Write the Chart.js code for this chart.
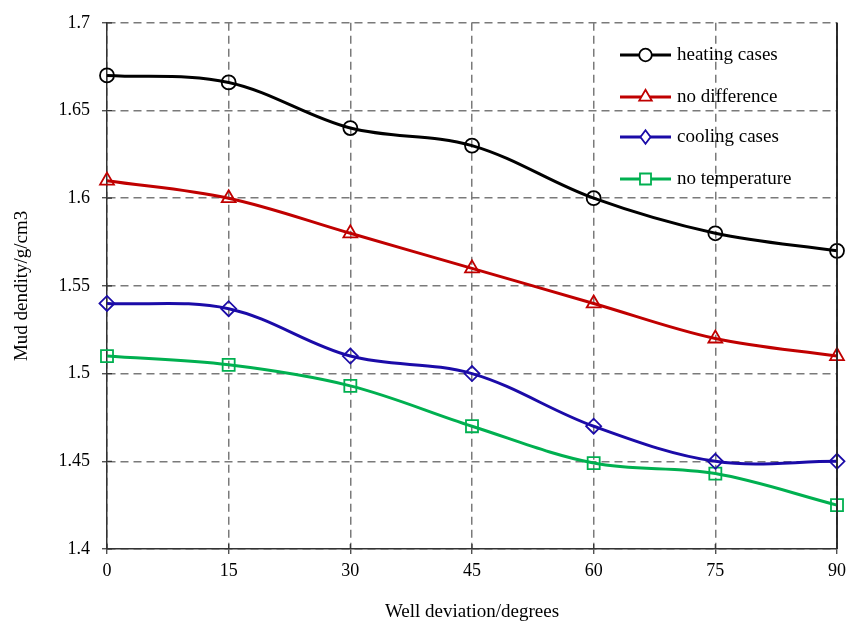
<!DOCTYPE html>
<html>
<head>
<meta charset="utf-8">
<script src="https://cdn.jsdelivr.net/npm/chart.js@4/dist/chart.umd.min.js"></script>
<style>
html,body{margin:0;padding:0;background:#fff;}
#wrap{width:861px;height:630px;position:relative;}
</style>
</head>
<body>
<div id="wrap"><canvas id="c" width="861" height="630"></canvas></div>
<script>
const deviations = [0, 15, 30, 45, 60, 75, 90];
const heatingCases = [1.670, 1.666, 1.640, 1.630, 1.600, 1.580, 1.570];
const noDifference = [1.610, 1.600, 1.580, 1.560, 1.540, 1.520, 1.510];
const coolingCases = [1.540, 1.537, 1.510, 1.500, 1.470, 1.450, 1.450];
const noTemperature = [1.510, 1.505, 1.493, 1.470, 1.449, 1.443, 1.425];
const seriesNames = ['heating cases', 'no difference', 'cooling cases', 'no temperature'];
const yTicks = [1.4, 1.45, 1.5, 1.55, 1.6, 1.65, 1.7];
const xTicks = [0, 15, 30, 45, 60, 75, 90];

const serif = "'Liberation Serif', 'Times New Roman', serif";

function pts(vals){ return deviations.map((x,i)=>({x:x, y:vals[i]})); }

function ds(label, vals, color, style, radius){
  return {
    label: label,
    data: pts(vals),
    borderColor: color,
    backgroundColor: color,
    borderWidth: 3,
    pointStyle: style,
    pointRadius: radius,
    pointBorderWidth: 1.8,
    pointBackgroundColor: 'rgba(255,255,255,0)',
    pointBorderColor: color,
    tension: 0.35,
    clip: false,
    fill: false
  };
}

const datasets = [
  ds(seriesNames[0], heatingCases, '#000000', 'circle', 7),
  ds(seriesNames[1], noDifference, '#C00000', 'triangle', 8),
  ds(seriesNames[2], coolingCases, '#1B0BA8', 'rectRot', 7.5),
  ds(seriesNames[3], noTemperature, '#00B050', 'rect', 8.5)
];

const innerTicks = {
  id: 'innerTicks',
  afterDraw(chart){
    const ctx = chart.ctx, a = chart.chartArea;
    const xs = chart.scales.x, ys = chart.scales.y;
    ctx.save();
    ctx.strokeStyle = '#222';
    ctx.lineWidth = 1.5;
    ctx.beginPath();
    ctx.moveTo(a.right, a.top); ctx.lineTo(a.right, a.bottom);
    ctx.stroke();
    ctx.strokeStyle = '#333';
    ctx.lineWidth = 1.2;
    ctx.beginPath();
    xTicks.forEach(v=>{ const px = xs.getPixelForValue(v); ctx.moveTo(px, a.bottom); ctx.lineTo(px, a.bottom-5); });
    yTicks.forEach(v=>{ const py = ys.getPixelForValue(v); ctx.moveTo(a.left, py); ctx.lineTo(a.left+5, py); });
    ctx.stroke();
    ctx.restore();
  },
  beforeDatasetsDraw(chart){
    const ctx = chart.ctx, a = chart.chartArea;
    ctx.save();
    ctx.strokeStyle = '#222';
    ctx.lineWidth = 1.5;
    ctx.beginPath();
    ctx.moveTo(a.right, a.top); ctx.lineTo(a.right, a.bottom);
    ctx.stroke();
    ctx.restore();
  }
};

const customLegend = {
  id: 'customLegend',
  afterDraw(chart){
    const ctx = chart.ctx;
    const x0 = 620, x1 = 671, tx = 677;
    const ys = [55, 97, 137, 179];
    ctx.save();
    chart.data.datasets.forEach((d,i)=>{
      const y = ys[i];
      ctx.strokeStyle = d.borderColor;
      ctx.lineWidth = 3;
      ctx.beginPath(); ctx.moveTo(x0,y); ctx.lineTo(x1,y); ctx.stroke();
      ctx.lineWidth = d.pointBorderWidth;
      ctx.strokeStyle = d.borderColor;
      ctx.fillStyle = '#fff';
      ctx.beginPath();
      const r = d.pointRadius * 0.9, cx=(x0+x1)/2;
      if (d.pointStyle==='circle'){ ctx.arc(cx,y,r,0,Math.PI*2); }
      else if (d.pointStyle==='triangle'){ ctx.moveTo(cx, y-r); ctx.lineTo(cx+r*0.87, y+r*0.5); ctx.lineTo(cx-r*0.87, y+r*0.5); ctx.closePath(); }
      else if (d.pointStyle==='rectRot'){ ctx.moveTo(cx, y-r); ctx.lineTo(cx+r*0.75, y); ctx.lineTo(cx, y+r); ctx.lineTo(cx-r*0.75, y); ctx.closePath(); }
      else { const s=r*0.72; ctx.rect(cx-s, y-s, 2*s, 2*s); }
      ctx.fill(); ctx.stroke();
      ctx.fillStyle = '#000';
      ctx.font = "19px " + serif;
      ctx.textBaseline = 'middle';
      ctx.textAlign = 'left';
      ctx.fillText(d.label, tx, y);
    });
    ctx.restore();
  }
};

new Chart(document.getElementById('c'), {
  type: 'line',
  data: { datasets: datasets },
  plugins: [innerTicks, customLegend],
  options: {
    responsive: false,
    animation: false,
    devicePixelRatio: 1,
    layout: { padding: { top: 18, right: 24, left: 0, bottom: 0 } },
    plugins: { legend: { display: false }, tooltip: { enabled: false } },
    scales: {
      x: {
        type: 'linear',
        min: 0, max: 90,
        afterBuildTicks(s){ s.ticks = xTicks.map(v=>({value:v})); },
        afterFit(s){ s.height = 81; },
        ticks: { color: '#000', font: { family: serif, size: 18 }, padding: 6, maxRotation: 0 },
        grid: { color: '#7a7a7a', lineWidth: 1.5, tickLength: 5, tickColor: '#333', tickBorderDash: [], tickWidth: 1.2 },
        border: { display: true, color: '#333', width: 1.5, dash: [8,5] },
        title: { display: true, text: 'Well deviation/degrees', color: '#000', font: { family: serif, size: 19 }, padding: { top: 0, bottom: 7 } }
      },
      y: {
        type: 'linear',
        min: 1.4, max: 1.7,
        afterBuildTicks(s){ s.ticks = yTicks.map(v=>({value:v})); },
        afterFit(s){ s.width = 107; },
        ticks: { color: '#000', font: { family: serif, size: 18 }, padding: 12, callback: v => String(+v.toFixed(2)) },
        grid: { color: '#7a7a7a', lineWidth: 1.5, tickLength: 5, tickColor: '#333', tickBorderDash: [], tickWidth: 1.2 },
        border: { display: true, color: '#333', width: 1.5, dash: [8,5] },
        title: { display: true, text: 'Mud dendity/g/cm3', color: '#000', font: { family: serif, size: 19 }, padding: { top: 11, bottom: 0 } }
      }
    }
  }
});
</script>
</body>
</html>
